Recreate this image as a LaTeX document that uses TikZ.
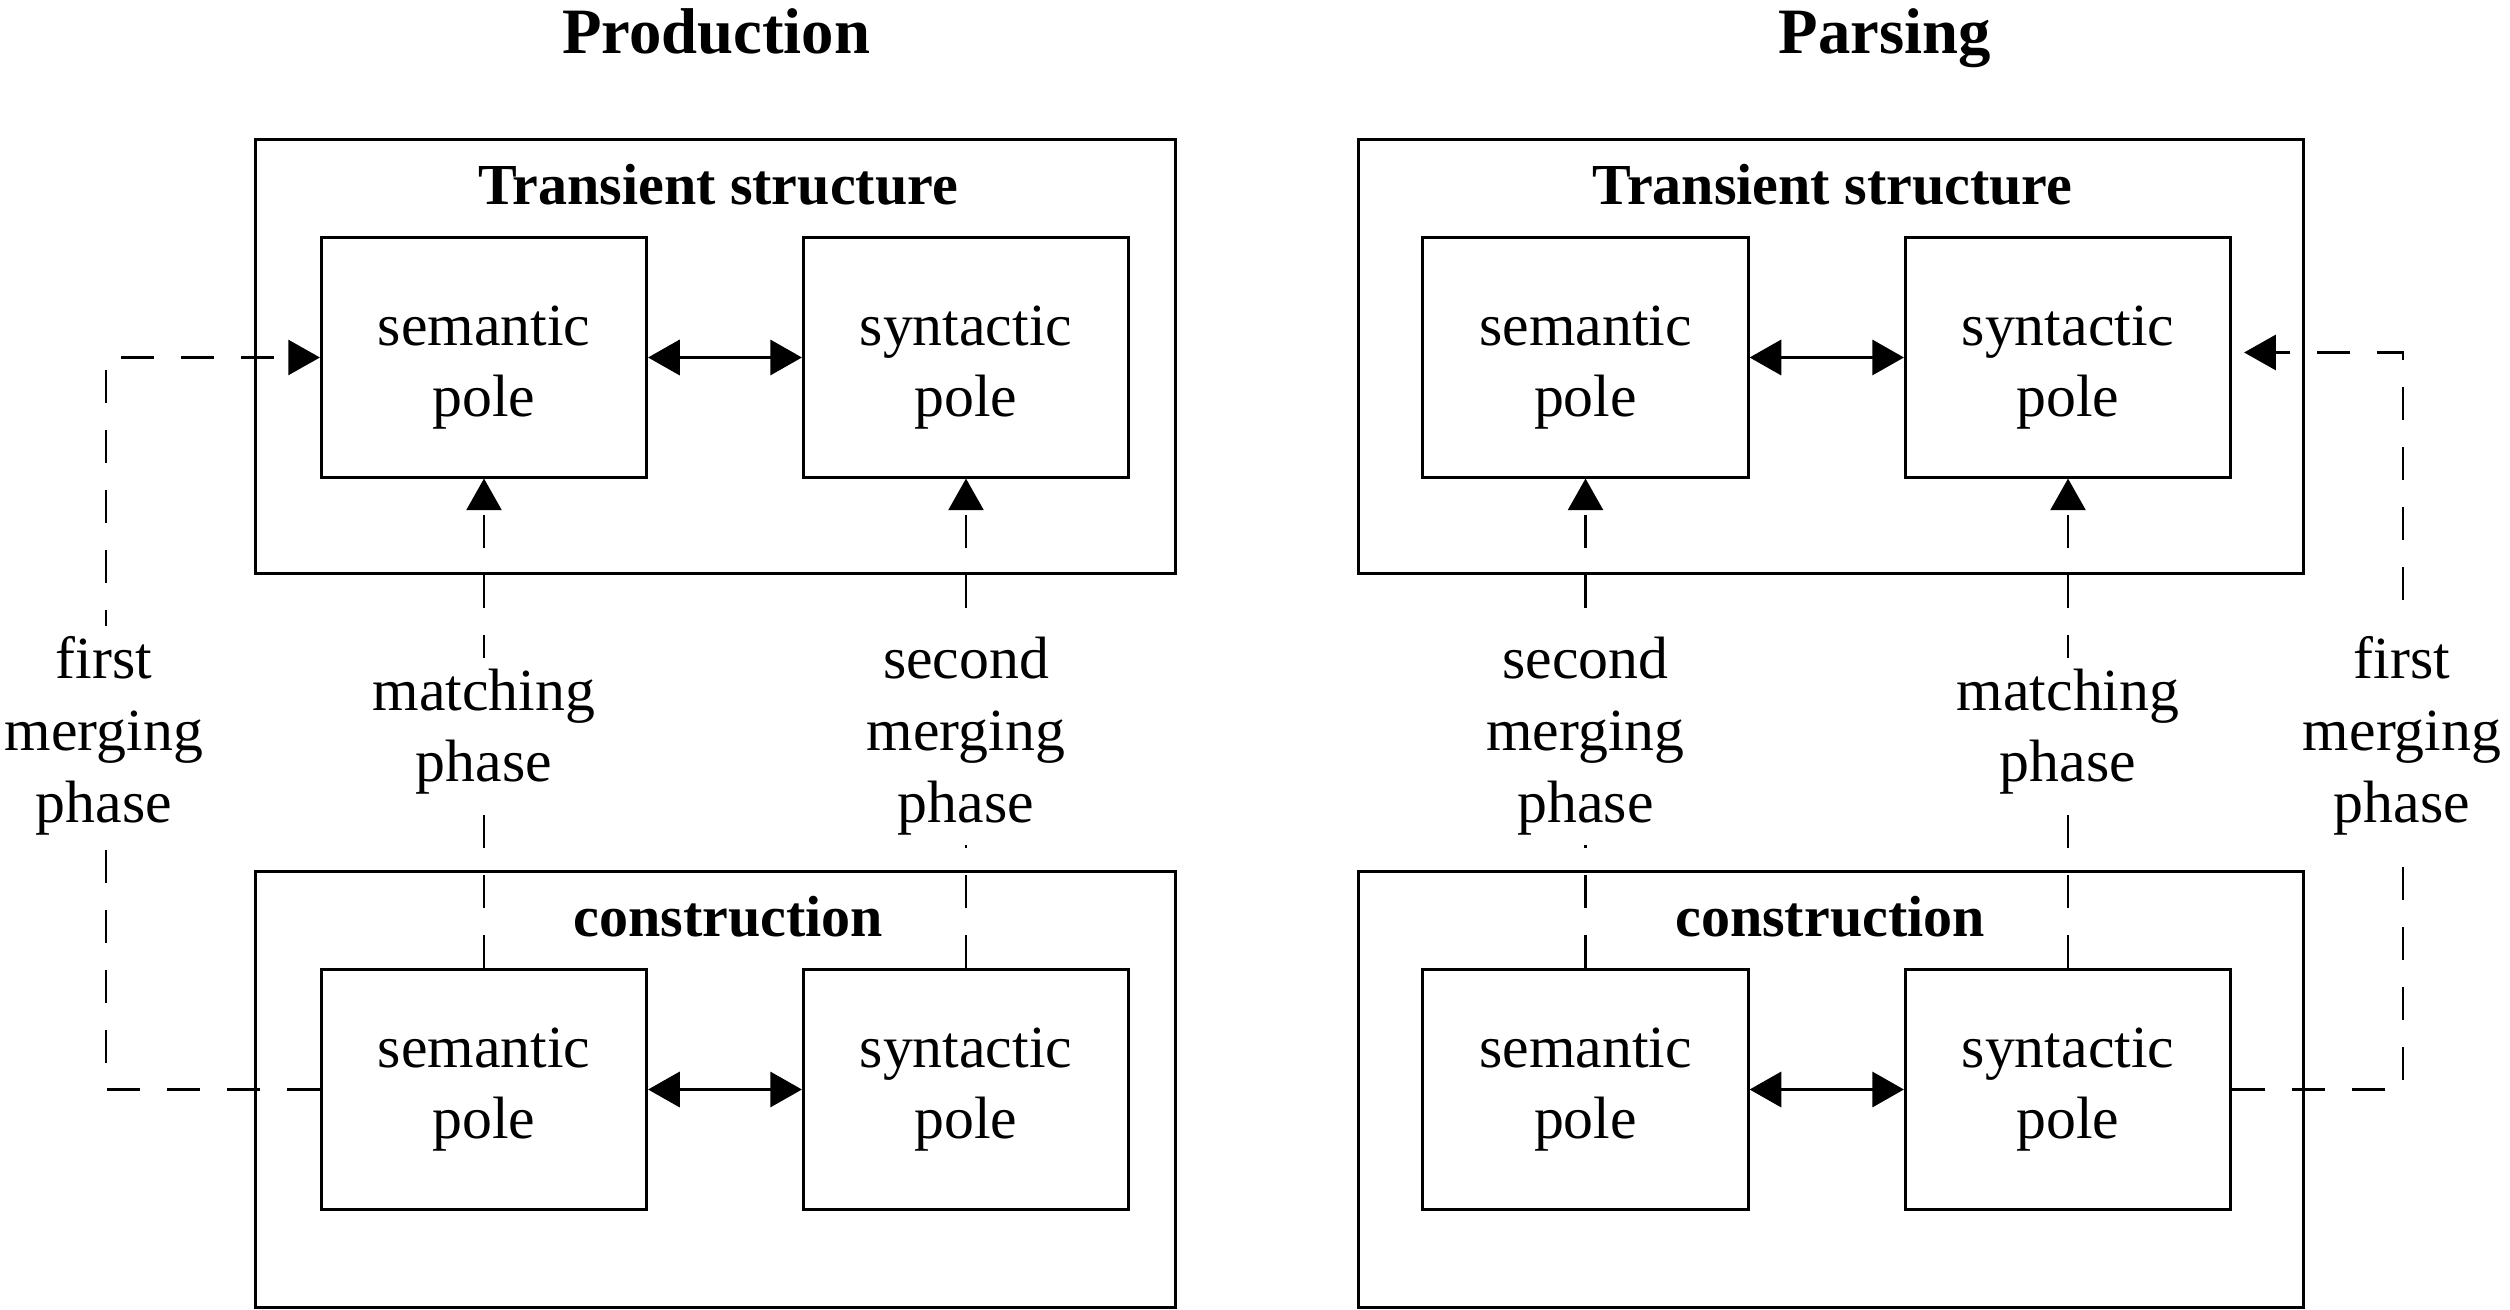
\documentclass[tikz,border=0pt]{standalone}
\usepackage{fontspec}
\setmainfont{Liberation Serif}
\usetikzlibrary{arrows.meta,calc}
\begin{document}
\begin{tikzpicture}[x=0.01cm,y=-0.01cm,
  box/.style={draw, line width=0.85pt, inner sep=0pt},
  pole/.style={box, minimum width=3.25cm, minimum height=2.39cm},
  poletext/.style={align=center, inner sep=0pt, font=\fontsize{17}{20.4}\selectfont},
  maintitle/.style={font=\fontsize{18.4}{22}\selectfont\bfseries, anchor=base, inner sep=0pt},
  boxtitle/.style={font=\fontsize{16.5}{20}\selectfont\bfseries, anchor=base, inner sep=0pt},
  phase/.style={font=\fontsize{17}{20.4}\selectfont, align=center, fill=white, inner sep=3pt},
  dflow/.style={line width=0.6pt, dash pattern=on 0.33cm off 0.27cm},
  tipend/.style={-{Triangle[length=9pt,width=10pt]}},
  dbl/.style={line width=0.85pt, {Triangle[length=9pt,width=10pt]}-{Triangle[length=9pt,width=10pt]}}
]
\fill[white] (0,0) rectangle (2510,1310);
\useasboundingbox (0,0) rectangle (2510,1310);

% ---------- Production ----------
\node[maintitle] (tprod) at (716,54) {Production};
\node[box, minimum width=9.2cm, minimum height=4.33cm] (ts1) at (715.5,356.5) {};
\node[box, minimum width=9.2cm, minimum height=4.35cm] (c1) at (715.5,1089.5) {};
\node[boxtitle] (tts1) at (718,205) {Transient structure};
\node[boxtitle] (tc1) at (728.5,936) {construction};
\node[pole] (s1) at (484,357.5) {};
\node[pole] (y1) at (966,357.5) {};
\node[pole] (ls1) at (484,1089.5) {};
\node[pole] (ly1) at (966,1089.5) {};
\node[poletext] (s1t) at ([yshift=-0.1cm]s1.center) {semantic\\pole};
\node[poletext] (y1t) at ([yshift=-0.1cm]y1.center) {syntactic\\pole};
\node[poletext] (ls1t) at (ls1.center) {semantic\\pole};
\node[poletext] (ly1t) at (ly1.center) {syntactic\\pole};

\draw[dbl] (s1.east) -- (y1.west);
\draw[dbl] (ls1.east) -- (ly1.west);

\coordinate (lx) at (106,0);
\draw[dflow, tipend] (ls1.west) -- (ls1.west -| lx) -- (s1.west -| lx) -- (s1.west);
\draw[dflow, tipend] (ls1.north) -- (s1.south);
\draw[dflow, tipend] (ly1.north) -- (y1.south);

\node[phase] (pf1) at (104,736) {first\\merging\\phase};
\node[phase] (pm1) at (484,731.5) {matching\\phase};
\node[phase] (ps1) at (966,736) {second\\merging\\phase};

% ---------- Parsing ----------
\node[maintitle] (tpars) at (1885,54) {Parsing};
\node[box, minimum width=9.45cm, minimum height=4.33cm] (ts2) at (1831,356.5) {};
\node[box, minimum width=9.45cm, minimum height=4.35cm] (c2) at (1831,1089.5) {};
\node[boxtitle] (tts2) at (1832.5,205) {Transient structure};
\node[boxtitle] (tc2) at (1830,936) {construction};
\node[pole] (s2) at (1585.5,357.5) {};
\node[pole] (y2) at (2068,357.5) {};
\node[pole] (ls2) at (1585.5,1089.5) {};
\node[pole] (ly2) at (2068,1089.5) {};
\node[poletext] (s2t) at ([yshift=-0.1cm]s2.center) {semantic\\pole};
\node[poletext] (y2t) at ([yshift=-0.1cm]y2.center) {syntactic\\pole};
\node[poletext] (ls2t) at (ls2.center) {semantic\\pole};
\node[poletext] (ly2t) at (ly2.center) {syntactic\\pole};

\draw[dbl] (s2.east) -- (y2.west);
\draw[dbl] (ls2.east) -- (ly2.west);

\coordinate (rx) at (2403,0);
\coordinate (y2in) at ([yshift=0.05cm]y2.east);
\draw[dflow, tipend, shorten >=0.12cm] (ly2.east) -- (ly2.east -| rx) -- (y2in -| rx) -- (y2in);
\draw[dflow, tipend] (ls2.north) -- (s2.south);
\draw[dflow, tipend] (ly2.north) -- (y2.south);

\node[phase] (ps2) at (1585.5,736) {second\\merging\\phase};
\node[phase] (pm2) at (2068,731.5) {matching\\phase};
\node[phase] (pf2) at (2402,736) {first\\merging\\phase};
\end{tikzpicture}
\end{document}
